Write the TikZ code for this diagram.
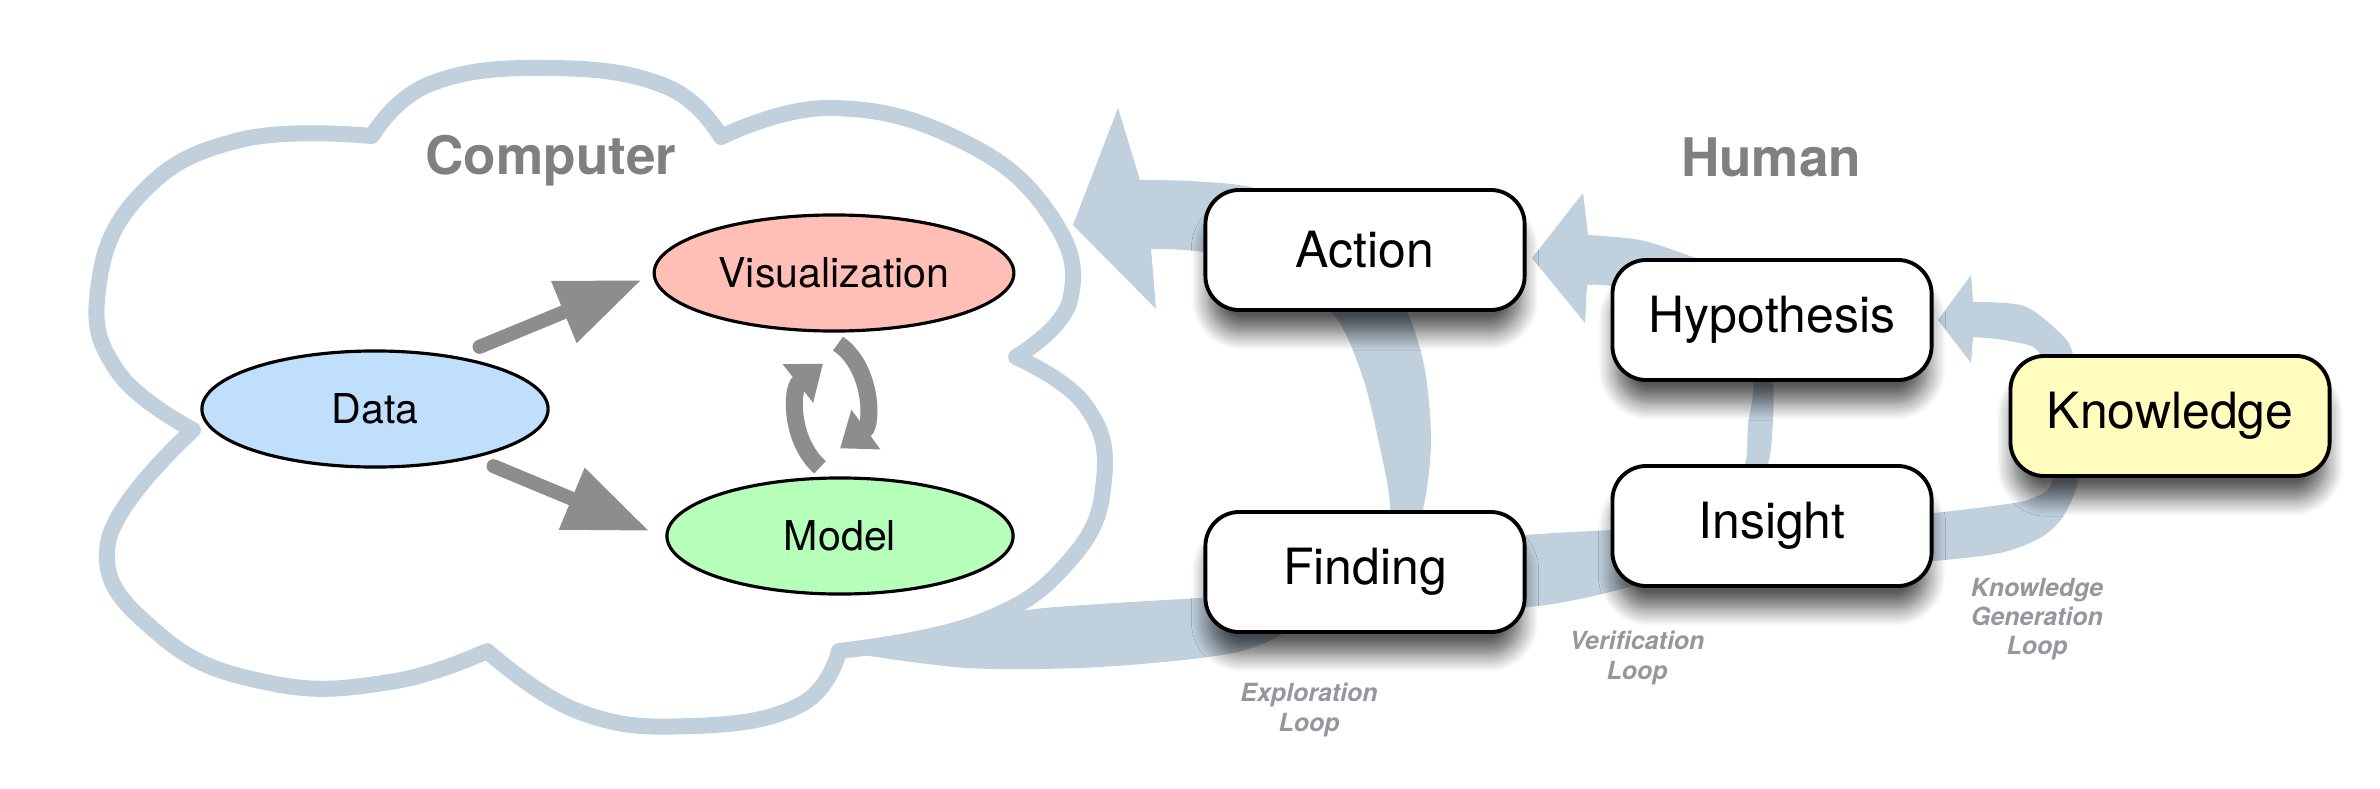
\documentclass[tikz,border=0pt]{standalone}
\usepackage{fontspec}
\setmainfont{TeX Gyre Heros}
\usetikzlibrary{arrows.meta,shapes.geometric,shadows.blur}
\definecolor{loopblue}{RGB}{192,208,221}
\definecolor{arrgray}{RGB}{141,141,141}
\definecolor{datblue}{RGB}{191,223,252}
\definecolor{vispink}{RGB}{255,191,182}
\definecolor{modgreen}{RGB}{182,255,186}
\definecolor{knwyellow}{RGB}{255,252,190}
\definecolor{sidegray}{RGB}{128,128,128}
\definecolor{loopgray}{RGB}{150,150,158}
\begin{document}
\begin{tikzpicture}[x=0.01cm,y=-0.01cm,
  stage/.style={draw,line width=1.1pt,fill=white,rounded corners=0.34cm,minimum width=3.19cm,minimum height=1.2cm,
    font=\fontsize{14.2pt}{17pt}\selectfont,
    blur shadow={shadow xshift=0pt,shadow yshift=-7pt,shadow scale=0.98,shadow blur radius=5pt,shadow blur steps=12,shadow opacity=65}},
  blob/.style={ellipse,draw,line width=0.9pt,minimum width=3.46cm,minimum height=1.16cm,font=\fontsize{11.7pt}{14pt}\selectfont},
  side/.style={text=sidegray,font=\fontsize{15.1pt}{18pt}\selectfont\bfseries},
  looplabel/.style={text=loopgray,align=center,font=\fontsize{7.1pt}{8.3pt}\selectfont\bfseries\itshape},
  fat/.style={draw=arrgray,line width=0.14cm,line cap=round,-{Triangle[length=0.84cm,width=0.63cm]}},
  turn/.style={draw=arrgray,line width=0.17cm,-{Triangle[length=0.32cm,width=0.47cm]}}]
\useasboundingbox (0,0) rectangle (2380,788);
\draw[loopblue,line width=0.16cm,line join=round,fill=white]
  plot[smooth,tension=0.75] coordinates {(372,136) (430,84) (547,68) (665,86) (721,137)}
  -- plot[smooth,tension=0.75] coordinates {(721,137) (830,108) (960,140) (1050,215) (1070,300) (1016,357)}
  -- plot[smooth,tension=0.75] coordinates {(1016,357) (1085,405) (1104,480) (1070,560) (980,622) (839,651)}
  -- plot[smooth,tension=0.75] coordinates {(839,651) (800,705) (692,726) (580,712) (487,651)}
  -- plot[smooth,tension=0.75] coordinates {(487,651) (390,682) (270,683) (160,635) (108,543) (193,430)}
  -- plot[smooth,tension=0.75] coordinates {(193,430) (118,372) (98,290) (140,195) (240,140) (372,136)}
  -- cycle;
% exploration loop
\fill[loopblue] plot[smooth] coordinates {(843,652) (967,668) (1100,667) (1233,653) (1300,625) (1360,583) (1405,540) (1423,509) (1431,443) (1425,370) (1408,314) (1375,255) (1320,210) (1250,187) (1190,181) (1140,180)}
  -- (1118,108) -- (1073,225) -- (1156,309)
  -- plot[smooth] coordinates {(1151,249) (1203,252) (1270,272) (1333,314) (1362,375) (1379,443) (1390,509) (1375,555) (1320,585) (1250,595) (1200,598) (1100,604) (1020,611) (930,632) (843,652)} -- cycle;
% verification loop
\fill[loopblue] plot[smooth] coordinates {(1440,600) (1526,607) (1610,592) (1690,565) (1745,515) (1768,464) (1773,420) (1773,381) (1765,320) (1735,275) (1687,255) (1640,240) (1588,235)}
  -- (1583,193) -- (1532,258) -- (1585,323)
  -- plot[smooth] coordinates {(1587,285) (1611,286) (1680,300) (1735,340) (1753,381) (1748,425) (1745,464) (1725,505) (1680,527) (1611,530) (1526,535) (1440,545)} -- cycle;
% knowledge generation loop
\fill[loopblue] plot[smooth] coordinates {(1880,562) (1933,561) (2000,553) (2040,538) (2062,518) (2078,482) (2085,420) (2073,354) (2060,333) (2024,306) (1973,302)}
  -- (1971,275) -- (1938,320) -- (1971,363)
  -- plot[smooth] coordinates {(1973,337) (2009,341) (2040,354) (2050,420) (2052,482) (2030,499) (2000,505) (1933,513) (1880,515)} -- cycle;
\node[blob,fill=datblue] (dat) at (375,409) {Data};
\node[blob,fill=vispink] (vis) at (834,273) {Visualization};
\node[blob,fill=modgreen] (mod) at (840,536) {Model};
\draw[fat] ([shift={(-19,-20)}]dat.north east) -- ([shift={(-11,7)}]vis.west);
\draw[fat] ([shift={(-5,15)}]dat.south east) -- ([shift={(-16,-5)}]mod.west);
\draw[turn] ([shift={(-20,-9)}]mod.north) to[bend left=50] ([shift={(-11,31)}]vis.south);
\draw[turn] ([shift={(4,11)}]vis.south) to[bend left=55] ([shift={(0,-28)}]mod.north);
\node[side] (cmp) at (551,161) {Computer};
\node[side] (hum) at (1771,157) {Human};
\node[stage] (act) at (1365,250) {Action};
\node[stage] (fnd) at (1365,572) {Finding};
\node[stage] (hyp) at (1772,320) {Hypothesis};
\node[stage] (ins) at (1772,526) {Insight};
\node[stage,fill=knwyellow] (knw) at (2170,416) {Knowledge};
\node[looplabel] (lexp) at (1309,710) {Exploration\\Loop};
\node[looplabel] (lver) at (1637,658) {Verification\\Loop};
\node[looplabel] (lknw) at (2037,619) {Knowledge\\Generation\\Loop};
\end{tikzpicture}
\end{document}
